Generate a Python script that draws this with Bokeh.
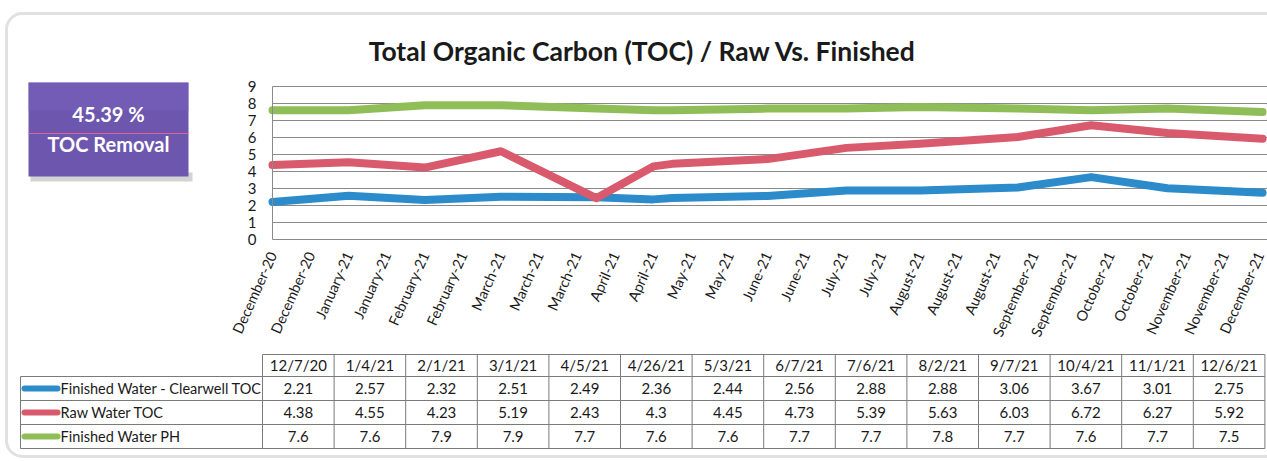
from datetime import datetime
from bokeh.plotting import figure
from bokeh.models import (Range1d, LinearAxis, DatetimeAxis, FixedTicker,
                          DatetimeTickFormatter, BoxAnnotation)
from bokeh.core.properties import value
from bokeh.embed import file_html
from bokeh.resources import INLINE

# ---------------- data ----------------
title_text = "Total Organic Carbon (TOC) / Raw Vs. Finished"
removal_pct = "45.39 %"
removal_label = "TOC Removal"

sample_dates = ["2020-12-07", "2021-01-04", "2021-02-01", "2021-03-01", "2021-04-05",
                "2021-04-26", "2021-05-03", "2021-06-07", "2021-07-06", "2021-08-02",
                "2021-09-07", "2021-10-04", "2021-11-01", "2021-12-06"]
date_labels = ["12/7/20", "1/4/21", "2/1/21", "3/1/21", "4/5/21", "4/26/21", "5/3/21",
               "6/7/21", "7/6/21", "8/2/21", "9/7/21", "10/4/21", "11/1/21", "12/6/21"]
finished_toc = [2.21, 2.57, 2.32, 2.51, 2.49, 2.36, 2.44, 2.56, 2.88, 2.88, 3.06, 3.67, 3.01, 2.75]
raw_toc = [4.38, 4.55, 4.23, 5.19, 2.43, 4.3, 4.45, 4.73, 5.39, 5.63, 6.03, 6.72, 6.27, 5.92]
finished_ph = [7.6, 7.6, 7.9, 7.9, 7.7, 7.6, 7.6, 7.7, 7.7, 7.8, 7.7, 7.6, 7.7, 7.5]
table_values = [["2.21", "2.57", "2.32", "2.51", "2.49", "2.36", "2.44", "2.56", "2.88", "2.88", "3.06", "3.67", "3.01", "2.75"],
                ["4.38", "4.55", "4.23", "5.19", "2.43", "4.3", "4.45", "4.73", "5.39", "5.63", "6.03", "6.72", "6.27", "5.92"],
                ["7.6", "7.6", "7.9", "7.9", "7.7", "7.6", "7.6", "7.7", "7.7", "7.8", "7.7", "7.6", "7.7", "7.5"]]
series_names = ["Finished Water - Clearwell TOC", "Raw Water TOC", "Finished Water PH"]
series_colors = ["#2b8bcb", "#d95a6c", "#8fbe59"]

y_ticks = [0, 1, 2, 3, 4, 5, 6, 7, 8, 9]
x_tick_dates = ["2020-12-07", "2020-12-21", "2021-01-04", "2021-01-18", "2021-02-01",
                "2021-02-15", "2021-03-01", "2021-03-15", "2021-03-29", "2021-04-12",
                "2021-04-26", "2021-05-10", "2021-05-24", "2021-06-07", "2021-06-21",
                "2021-07-05", "2021-07-19", "2021-08-02", "2021-08-16", "2021-08-30",
                "2021-09-13", "2021-09-27", "2021-10-11", "2021-10-25", "2021-11-08",
                "2021-11-22", "2021-12-06"]

# ---------------- helpers ----------------
EPOCH = datetime(1970, 1, 1)
DAY = 86400000.0


def to_ms(s):
    return (datetime.strptime(s, "%Y-%m-%d") - EPOCH).total_seconds() * 1000.0


W, H = 1267, 461
OFF = 0


def cx(X):   # reference pixel x -> canvas data x
    return X - OFF


def cy(Y):   # reference pixel y -> canvas data y (up)
    return H + OFF - Y


FONT = value("Lato")

# chart geometry (reference pixels)
AX_X = 272          # y-axis position / first date
PX_DAY = 2.72       # pixels per day
Y0_PIX, Y9_PIX = 239, 86
PX_UNIT = (Y0_PIX - Y9_PIX) / 9.0

d0 = to_ms(sample_dates[0])
date_start = d0 - (AX_X - OFF) / PX_DAY * DAY
date_end = d0 + (OFF + W - AX_X) / PX_DAY * DAY
v_start = -cy(Y0_PIX) / PX_UNIT
v_end = (H - cy(Y0_PIX)) / PX_UNIT

p = figure(width=W, height=H, output_backend="svg", toolbar_location=None,
           x_range=Range1d(0, W), y_range=Range1d(0, H),
           x_axis_type=None, y_axis_type=None,
           min_border=0, min_border_left=0, min_border_right=0,
           min_border_top=0, min_border_bottom=0,
           outline_line_color=None, background_fill_color="white",
           border_fill_color="white")
p.extra_x_ranges = {"date": Range1d(date_start, date_end)}
p.extra_y_ranges = {"val": Range1d(v_start, v_end)}

# outer rounded frame
p.add_layout(BoxAnnotation(left=cx(6), right=W + 60, bottom=cy(456), top=cy(13),
                           fill_alpha=0, line_color="#9a9a9a", line_width=3,
                           border_radius=16))

# title
p.text(x=[cx(642)], y=[cy(50)], text=[title_text], text_font=FONT,
       text_font_size="26.5px", text_font_style="bold", text_color="#1a1a1a",
       text_align="center", text_baseline="middle")

# purple removal box
p.quad(left=[cx(30)], right=[cx(192)], bottom=[cy(181)], top=[cy(172)],
       fill_color="#b5b5b5", fill_alpha=0.6, line_color=None)
p.quad(left=[cx(28)], right=[cx(188)], bottom=[cy(176)], top=[cy(82)],
       fill_color="#6c56ae", line_color=None)
p.quad(left=[cx(28)], right=[cx(188)], bottom=[cy(110)], top=[cy(82)],
       fill_color="#7862bd", fill_alpha=0.5, line_color=None)
p.segment(x0=[cx(28)], x1=[cx(188)], y0=[cy(133)], y1=[cy(133)],
          line_color="#e0609a", line_width=1)
p.text(x=[cx(108), cx(108)], y=[cy(113), cy(143)], text=[removal_pct, removal_label],
       text_font=FONT, text_font_size="20px", text_font_style="bold",
       text_color="white", text_align="center", text_baseline="middle")

# gridlines
tick_ms = [to_ms(s) for s in x_tick_dates]
p.segment(x0=[d0] * len(y_ticks), x1=[date_end] * len(y_ticks), y0=y_ticks, y1=y_ticks,
          x_range_name="date", y_range_name="val", line_color="#8a8a8a", line_width=1)

# axes
yax = LinearAxis(x_range_name="date", y_range_name="val", fixed_location=d0,
                 bounds=(0, 9), ticker=FixedTicker(ticks=y_ticks),
                 axis_line_color="#8a8a8a", major_tick_line_color=None,
                 minor_tick_line_color=None, major_label_standoff=10,
                 major_label_text_font="Lato", major_label_text_font_size="15px",
                 major_label_text_color="#1a1a1a")
p.add_layout(yax, "left")

fmt = "%B-%y"
xax = DatetimeAxis(x_range_name="date", y_range_name="val", fixed_location=0,
                   ticker=FixedTicker(ticks=tick_ms),
                   formatter=DatetimeTickFormatter(microseconds=fmt, milliseconds=fmt,
                                                   seconds=fmt, minsec=fmt, minutes=fmt,
                                                   hourmin=fmt, hours=fmt, days=fmt,
                                                   months=fmt, years=fmt),
                   axis_line_color=None, major_tick_line_color=None,
                   minor_tick_line_color=None, major_label_orientation=1.15,
                   major_label_standoff=7, major_label_text_font="Lato",
                   major_label_text_font_size="14.5px", major_label_text_color="#1a1a1a")
p.add_layout(xax, "below")

# series lines
sample_ms = [to_ms(s) for s in sample_dates]
for vals, col in zip([finished_toc, raw_toc, finished_ph], series_colors):
    p.line(x=sample_ms, y=vals, x_range_name="date", y_range_name="val",
           line_color=col, line_width=8, line_cap="round", line_join="round")

# data table
TBL_L, COL0, COL_W = 20, 262, 71.6
HDR_T, ROW_T, ROW_H = 354, 376, 24
ncol = len(date_labels)
right_end = COL0 + COL_W * ncol
rows_y = [ROW_T + ROW_H * i for i in range(len(series_names) + 1)]
hx0 = [cx(COL0)] + [cx(TBL_L)] * len(rows_y)
hx1 = [cx(right_end)] * (len(rows_y) + 1)
hy = [cy(HDR_T)] + [cy(r) for r in rows_y]
p.segment(x0=hx0, x1=hx1, y0=hy, y1=hy, line_color="#7a7a7a", line_width=1)
vx = [cx(TBL_L)] + [cx(COL0 + COL_W * i) for i in range(ncol + 1)]
vy0 = [cy(ROW_T)] + [cy(HDR_T)] * (ncol + 1)
vy1 = [cy(rows_y[-1])] * (ncol + 1 + 1)
p.segment(x0=vx, x1=vx, y0=vy0, y1=vy1, line_color="#7a7a7a", line_width=1)

col_centers = [cx(COL0 + COL_W * i + COL_W / 2) for i in range(ncol)]
p.text(x=col_centers, y=[cy(364)] * ncol, text=date_labels, text_font=FONT,
       text_font_size="15px", text_color="#1a1a1a", text_align="center",
       text_baseline="middle")
for r, row in enumerate(table_values):
    yc = cy(ROW_T + ROW_H * r + ROW_H / 2)
    p.text(x=col_centers, y=[yc] * ncol, text=row, text_font=FONT,
           text_font_size="15px", text_color="#1a1a1a", text_align="center",
           text_baseline="middle")
    p.segment(x0=[cx(24)], x1=[cx(57)], y0=[yc], y1=[yc], line_color=series_colors[r],
              line_width=6, line_cap="round")
    p.text(x=[cx(60)], y=[yc], text=[series_names[r]], text_font=FONT,
           text_font_size="14.5px", text_color="#1a1a1a", text_align="left",
           text_baseline="middle")

open("out.html", "w").write(file_html(p, INLINE))
